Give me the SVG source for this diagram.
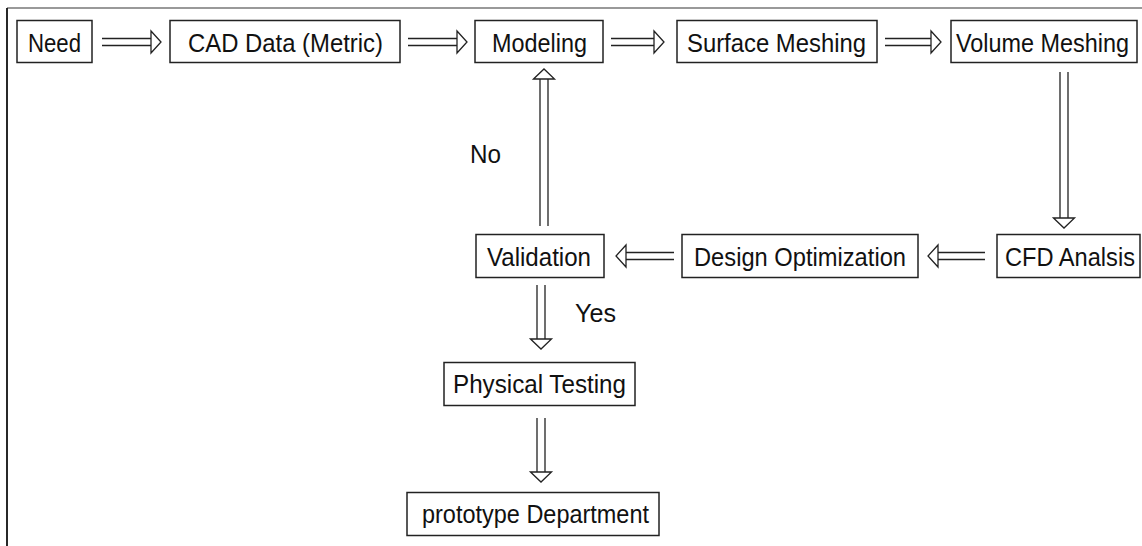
<svg xmlns="http://www.w3.org/2000/svg" width="1142" height="546" viewBox="0 0 1142 546">
<style>
.box{fill:#fff;stroke:#222;stroke-width:1.5}
.t{font-family:"Liberation Sans",Arial,sans-serif;font-size:26px;fill:#111}
.shaft{fill:none;stroke:#222;stroke-width:1.3}
.head{fill:#fff;stroke:#222;stroke-width:1.3;stroke-linejoin:miter}
</style>
<rect width="1142" height="546" fill="#fff"/>
<g id="frame">
<line x1="7" y1="8" x2="1142" y2="8" stroke="#777" stroke-width="1.5"/>
<line x1="7" y1="8" x2="7" y2="546" stroke="#111" stroke-width="1.8"/>
</g>
<g id="connectors">
<path class="shaft" d="M102 38.5H151M102 45.5H151"/><polygon class="head" points="151,31 161,42 151,53"/>
<path class="shaft" d="M408 38.5H457M408 45.5H457"/><polygon class="head" points="457,31 467,42 457,53"/>
<path class="shaft" d="M611 38.5H654M611 45.5H654"/><polygon class="head" points="654,31 664,42 654,53"/>
<path class="shaft" d="M885 38.5H931M885 45.5H931"/><polygon class="head" points="931,31 941,42 931,53"/>
<path class="shaft" d="M674 252.5H626M674 259.5H626"/><polygon class="head" points="626,245 616,256 626,267"/>
<path class="shaft" d="M985 252.5H938M985 259.5H938"/><polygon class="head" points="938,245 928,256 938,267"/>
<path class="shaft" d="M1060 72V218M1068 72V218"/><polygon class="head" points="1053.5,218 1064,228 1074.5,218"/>
<path class="shaft" d="M540 226V79M548 226V79"/><polygon class="head" points="533.5,79 544,69 554.5,79"/>
<path class="shaft" d="M537 285V339M545 285V339"/><polygon class="head" points="530.5,339 541,349 551.5,339"/>
<path class="shaft" d="M537 418V472M545 418V472"/><polygon class="head" points="530.5,472 541,482 551.5,472"/>
<text class="t" x="470" y="163" textLength="31" lengthAdjust="spacingAndGlyphs">No</text>
<text class="t" x="575" y="322" textLength="41" lengthAdjust="spacingAndGlyphs">Yes</text>
</g>
<g id="need"><rect class="box" x="17" y="20.5" width="75" height="42"/><text class="t" x="28" y="52" textLength="53" lengthAdjust="spacingAndGlyphs">Need</text></g>
<g id="cad"><rect class="box" x="170" y="20.5" width="230" height="42"/><text class="t" x="188" y="52" textLength="195" lengthAdjust="spacingAndGlyphs">CAD Data (Metric)</text></g>
<g id="modeling"><rect class="box" x="475" y="20.5" width="128" height="42"/><text class="t" x="492" y="52" textLength="95" lengthAdjust="spacingAndGlyphs">Modeling</text></g>
<g id="surface"><rect class="box" x="677" y="20.5" width="200" height="42"/><text class="t" x="687" y="52" textLength="179" lengthAdjust="spacingAndGlyphs">Surface Meshing</text></g>
<g id="volume"><rect class="box" x="951" y="20.5" width="186" height="42"/><text class="t" x="956" y="52" textLength="173" lengthAdjust="spacingAndGlyphs">Volume Meshing</text></g>
<g id="cfd"><rect class="box" x="997" y="234.5" width="143" height="43"/><text class="t" x="1005" y="266" textLength="130" lengthAdjust="spacingAndGlyphs">CFD Analsis</text></g>
<g id="design"><rect class="box" x="682" y="234.5" width="236" height="43"/><text class="t" x="694" y="266" textLength="212" lengthAdjust="spacingAndGlyphs">Design Optimization</text></g>
<g id="validation"><rect class="box" x="476" y="234.5" width="128" height="43"/><text class="t" x="487" y="266" textLength="104" lengthAdjust="spacingAndGlyphs">Validation</text></g>
<g id="physical"><rect class="box" x="444" y="362.5" width="191" height="43"/><text class="t" x="453" y="393" textLength="173" lengthAdjust="spacingAndGlyphs">Physical Testing</text></g>
<g id="prototype"><rect class="box" x="407" y="492.5" width="252" height="43"/><text class="t" x="422" y="523" textLength="227" lengthAdjust="spacingAndGlyphs">prototype Department</text></g>
</svg>
